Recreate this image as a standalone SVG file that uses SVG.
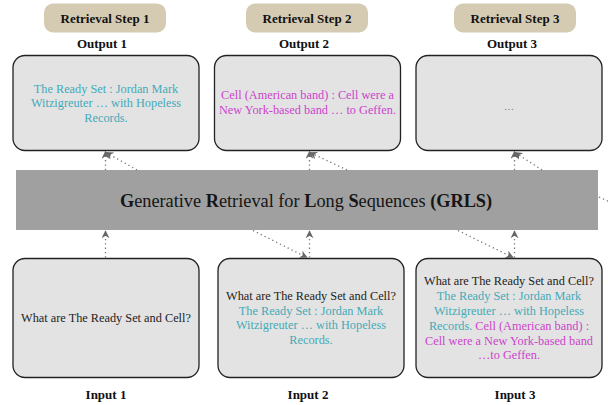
<svg xmlns="http://www.w3.org/2000/svg" width="608" height="405" viewBox="0 0 608 405">
<style>
text{font-family:'Liberation Serif','Tinos','Times New Roman','DejaVu Serif',serif;}
.pill{fill:#d5cbb3;}
.hd{font-size:13px;font-weight:bold;fill:#111;text-anchor:middle;}
.box{fill:#e3e3e3;stroke:#222;stroke-width:1.3;}
.bt{font-size:12.3px;text-anchor:middle;fill:#222;}
.teal{fill:#44aab8;}
.mag{fill:#cc44cc;}
.band{fill:#a0a0a0;}
.bandt{font-size:18.3px;fill:#151515;text-anchor:middle;}
.c{fill:none;stroke:#777;stroke-width:1.3;stroke-dasharray:1.3 3;}
</style>
<defs>
<marker id="ah" viewBox="0 0 10 10" refX="9" refY="5" markerWidth="8" markerHeight="8" markerUnits="userSpaceOnUse" orient="auto">
<path d="M0,0 L10,5 L0,10 L3,5 z" fill="#666"/>
</marker>
</defs>

<g id="step1"><rect class="pill" x="44" y="3.5" width="122" height="29" rx="9"/><text class="hd" x="105" y="22.5" font-family="Liberation Serif, serif">Retrieval Step 1</text></g>
<g id="step2"><rect class="pill" x="246" y="3.5" width="122" height="29" rx="9"/><text class="hd" x="307" y="22.5">Retrieval Step 2</text></g>
<g id="step3"><rect class="pill" x="454" y="3.5" width="122" height="29" rx="9"/><text class="hd" x="515" y="22.5">Retrieval Step 3</text></g>

<g id="output1">
<text class="hd" x="102" y="48">Output 1</text>
<rect class="box" x="13" y="55.5" width="186" height="95" rx="12"/>
<text class="bt teal" x="106" y="92.5">The Ready Set : Jordan Mark</text>
<text class="bt teal" x="106" y="107">Witzigreuter … with Hopeless</text>
<text class="bt teal" x="106" y="121.5">Records.</text>
</g>
<g id="output2">
<text class="hd" x="304" y="48">Output 2</text>
<rect class="box" x="214.5" y="55.5" width="186" height="95" rx="12"/>
<text class="bt mag" x="307.5" y="99">Cell (American band) : Cell were a</text>
<text class="bt mag" x="307.5" y="113.5">New York-based band … to Geffen.</text>
</g>
<g id="output3">
<text class="hd" x="512" y="48">Output 3</text>
<rect class="box" x="416" y="55.5" width="186" height="95" rx="12"/>
<text class="bt" x="509" y="110" style="fill:#777;font-size:10px">…</text>
</g>

<g id="grls">
<rect class="band" x="16" y="170" width="582" height="60"/>
<text class="bandt" x="306" y="206.5"><tspan font-weight="bold">G</tspan>enerative <tspan font-weight="bold">R</tspan>etrieval for <tspan font-weight="bold">L</tspan>ong <tspan font-weight="bold">S</tspan>equences <tspan font-weight="bold">(GRLS)</tspan></text>
</g>

<g id="input1">
<rect class="box" x="13" y="258.5" width="186" height="119" rx="12"/>
<text class="bt" x="106" y="322">What are The Ready Set and Cell?</text>
<text class="hd" x="106" y="399">Input 1</text>
</g>
<g id="input2">
<rect class="box" x="218" y="258.5" width="186" height="119" rx="12"/>
<text class="bt" x="311" y="300">What are The Ready Set and Cell?</text>
<text class="bt teal" x="311" y="314.5">The Ready Set : Jordan Mark</text>
<text class="bt teal" x="311" y="329">Witzigreuter … with Hopeless</text>
<text class="bt teal" x="311" y="343.5">Records.</text>
<text class="hd" x="308" y="399">Input 2</text>
</g>
<g id="input3">
<rect class="box" x="416" y="258.5" width="186" height="119" rx="12"/>
<text class="bt" x="509" y="285">What are The Ready Set and Cell?</text>
<text class="bt teal" x="509" y="300">The Ready Set : Jordan Mark</text>
<text class="bt teal" x="509" y="315">Witzigreuter … with Hopeless</text>
<text class="bt" x="509" y="330"><tspan class="teal">Records.</tspan> <tspan class="mag">Cell (American band) :</tspan></text>
<text class="bt mag" x="509" y="344.5">Cell were a New York-based band</text>
<text class="bt mag" x="509" y="359">…to Geffen.</text>
<text class="hd" x="515" y="399">Input 3</text>
</g>

<g id="connectors">
<line class="c" x1="105.5" y1="170" x2="105.5" y2="151.5" marker-end="url(#ah)"/>
<line class="c" x1="137" y1="170" x2="106" y2="152.5" marker-end="url(#ah)"/>
<line class="c" x1="309.5" y1="170" x2="309.5" y2="151.5" marker-end="url(#ah)"/>
<line class="c" x1="347" y1="170" x2="310" y2="152.5" marker-end="url(#ah)"/>
<line class="c" x1="514.5" y1="170" x2="514.5" y2="151.5" marker-end="url(#ah)"/>
<line class="c" x1="542" y1="170" x2="515" y2="152.5" marker-end="url(#ah)"/>
<line class="c" x1="105.5" y1="257.5" x2="105.5" y2="231" marker-end="url(#ah)"/>
<line class="c" x1="309.5" y1="257.5" x2="309.5" y2="231" marker-end="url(#ah)"/>
<line class="c" x1="253" y1="230.5" x2="307" y2="257.5" marker-end="url(#ah)"/>
<line class="c" x1="514.5" y1="257.5" x2="514.5" y2="231" marker-end="url(#ah)"/>
<line class="c" x1="458" y1="230.5" x2="513" y2="257.5" marker-end="url(#ah)"/>
<line class="c" x1="599" y1="197" x2="610" y2="202"/>
</g>
</svg>
